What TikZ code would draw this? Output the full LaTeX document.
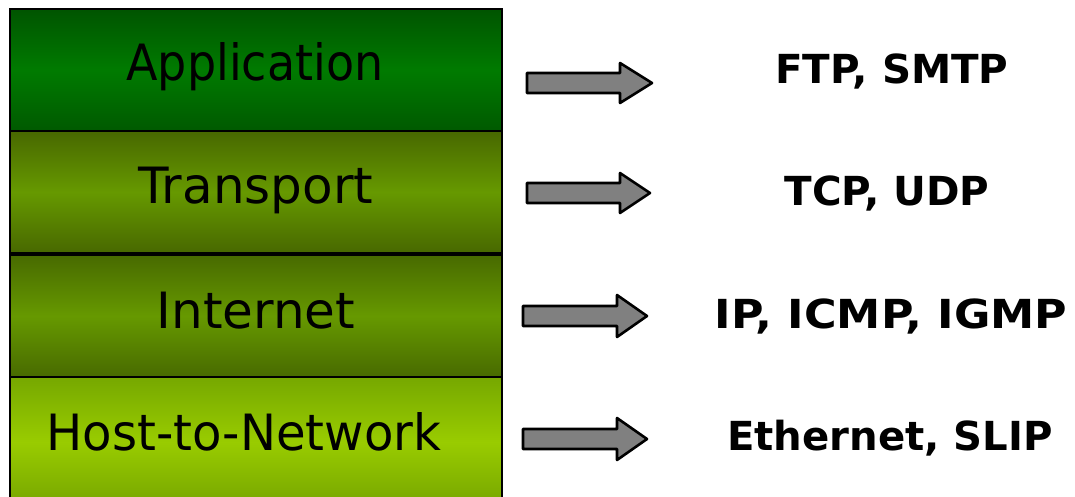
\documentclass[tikz,border=0pt]{standalone}
\usepackage{graphicx}
\usepackage{fontspec}
\setmainfont{DejaVu Sans}
\begin{document}
\begin{tikzpicture}[x=1pt,y=-1pt,
  layer/.style={draw=black, line width=1.6pt, rectangle, minimum width=492pt, inner sep=0pt},
  layertext/.style={anchor=base, font=\fontsize{50}{60}\selectfont, text=black, inner sep=0pt},
  proto/.style={anchor=base, font=\fontsize{40}{46}\selectfont\bfseries, text=black, inner sep=0pt},
  bigarrow/.style={draw=black, fill=black!50, line width=2.6pt, line join=round}]
\useasboundingbox (0,0) rectangle (1075,496);
\clip (0,0) rectangle (1075,496);
% layers
\node[layer, minimum height=122pt, top color=green!33!black, bottom color=green!35!black, middle color=green!48!black] (app) at (256,70) {};
\node[layer, minimum height=122pt, top color={rgb,255:red,72;green,104;blue,0}, bottom color={rgb,255:red,72;green,104;blue,0}, middle color={rgb,255:red,102;green,153;blue,0}] (trans) at (256,192) {};
\node[layer, minimum height=122pt, top color={rgb,255:red,72;green,106;blue,0}, bottom color={rgb,255:red,72;green,106;blue,0}, middle color={rgb,255:red,102;green,153;blue,0}] (inet) at (256,316) {};
\node[layer, minimum height=130pt, top color={rgb,255:red,118;green,168;blue,0}, bottom color={rgb,255:red,118;green,165;blue,0}, middle color={rgb,255:red,153;green,204;blue,0}] (host) at (256,442) {};
% layer names
\node[layertext] (tapp) at (255,80) {\scalebox{0.92}[1]{Application}};
\node[layertext] (ttrans) at (256,203) {Transport};
\node[layertext] (tinet) at (256,328) {Internet};
\node[layertext] (thost) at (244,450) {\scalebox{0.963}[1]{Host-to-Network}};
% arrows
\draw[bigarrow] (527,73) -- (620,73) -- (620,63) -- (652,83) -- (620,103) -- (620,93) -- (527,93) -- cycle;
\draw[bigarrow] (527,183) -- (620,183) -- (620,173) -- (650,193) -- (620,213) -- (620,203) -- (527,203) -- cycle;
\draw[bigarrow] (523,306) -- (617,306) -- (617,295) -- (647,316) -- (617,337) -- (617,326) -- (523,326) -- cycle;
\draw[bigarrow] (523,429) -- (617,429) -- (617,418) -- (647,439) -- (617,460) -- (617,449) -- (523,449) -- cycle;
% protocols
\node[proto] (papp) at (892,83) {\scalebox{1.01}[1]{FTP, SMTP}};
\node[proto] (ptrans) at (887,205) {\scalebox{1.01}[1]{TCP, UDP}};
\node[proto] (pinet) at (891,328) {\scalebox{1.11}[1]{IP, ICMP, IGMP}};
\node[proto] (phost) at (890,450) {\scalebox{1.005}[1]{Ethernet, SLIP}};
\end{tikzpicture}
\end{document}
